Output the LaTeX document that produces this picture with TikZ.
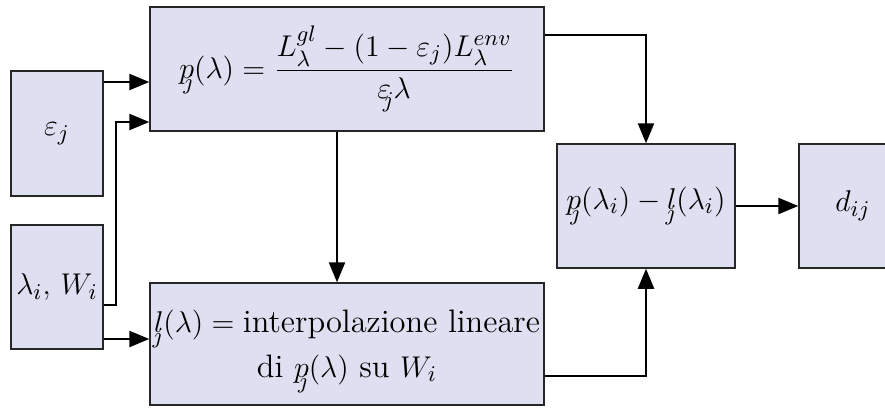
\documentclass[tikz,border=0pt]{standalone}
\usepackage{amsmath}
\usetikzlibrary{arrows.meta}
\definecolor{boxfill}{RGB}{223,223,242}
\newcommand{\sj}{\llap{\raisebox{-4.5pt}{$\scriptstyle j$}}}
\newcommand{\jp}{p\sj}
\newcommand{\jl}{l\sj}
\newcommand{\je}{\varepsilon\llap{\raisebox{-3.5pt}{$\scriptstyle j$}\kern-1pt}\kern1pt}
\begin{document}
\begin{tikzpicture}[x=0.4pt,y=-0.4pt,
  blk/.style={draw=black!85,line width=0.6pt,fill=boxfill,inner sep=0pt,font=\fontsize{13}{16}\selectfont},
  arr/.style={line width=0.6pt,-{Triangle[length=8pt,width=6.5pt]}}]
\useasboundingbox (0,0) rectangle (885,407);
\node[blk,minimum width=92*0.4pt,minimum height=125*0.4pt] (eps) at (57,133.5) {$\varepsilon_j$};
\node[blk,minimum width=92*0.4pt,minimum height=124*0.4pt] (lam) at (57,287) {$\lambda_i,\,W_i$};
\node[blk,minimum width=394*0.4pt,minimum height=124*0.4pt] (top) at (347,69)
  {$\jp(\lambda)=\dfrac{L^{gl}_\lambda-(1-\varepsilon_j)L^{env}_\lambda}{\je\lambda}$};
\node[blk,minimum width=394*0.4pt,minimum height=122*0.4pt,align=center] (bot) at (347,344)
  {\rule{0pt}{15pt}$\jl(\lambda)=\text{interpolazione lineare}$\\[2pt] di $\jp(\lambda)$ su $W_i$};
\node[blk,minimum width=178*0.4pt,minimum height=124*0.4pt] (mid) at (646,206)
  {$\jp(\lambda_i)-\jl(\lambda_i)$};
\node[blk,minimum width=108*0.4pt,minimum height=124*0.4pt] (d) at (853,206) {$d_{ij}$};
\draw[arr] (eps.east |- 0,82) -- (top.west |- 0,82);
\draw[arr] (lam.east |- 0,305) -- ++(12,0) |- (top.west |- 0,122);
\draw[arr] (lam.east |- 0,339) -- (bot.west |- 0,339);
\draw[arr] (top.south -| 337,0) -- (bot.north -| 337,0);
\draw[arr] (top.east |- 0,35) -| (mid.north);
\draw[arr] (bot.east |- 0,376) -| (mid.south);
\draw[arr] (mid.east) -- (d.west);
\end{tikzpicture}
\end{document}
